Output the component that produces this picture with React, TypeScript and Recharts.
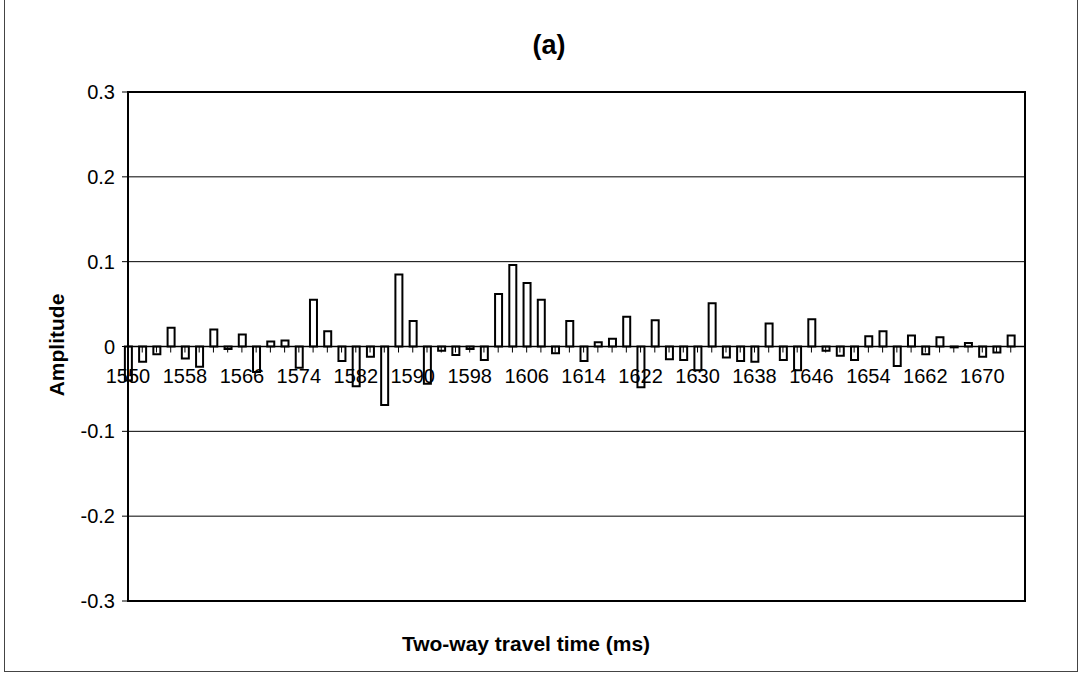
import React from 'react';
import {
  BarChart,
  Bar,
  XAxis,
  YAxis,
  CartesianGrid,
  ReferenceLine,
  ReferenceArea,
} from 'recharts';

// two-way travel time (ms), one bar every 2 ms
const times = [
  1550, 1552, 1554, 1556, 1558, 1560, 1562, 1564, 1566, 1568, 1570, 1572, 1574,
  1576, 1578, 1580, 1582, 1584, 1586, 1588, 1590, 1592, 1594, 1596, 1598, 1600,
  1602, 1604, 1606, 1608, 1610, 1612, 1614, 1616, 1618, 1620, 1622, 1624, 1626,
  1628, 1630, 1632, 1634, 1636, 1638, 1640, 1642, 1644, 1646, 1648, 1650, 1652,
  1654, 1656, 1658, 1660, 1662, 1664, 1666, 1668, 1670, 1672, 1674,
];

const amplitudes = [
  -0.04, -0.018, -0.009, 0.022, -0.014, -0.024, 0.02, -0.003, 0.014, -0.03, 0.006,
  0.007, -0.025, 0.055, 0.018, -0.017, -0.047, -0.012, -0.069, 0.085, 0.03, -0.044,
  -0.005, -0.01, -0.003, -0.016, 0.062, 0.096, 0.075, 0.055, -0.008, 0.03, -0.017,
  0.005, 0.009, 0.035, -0.048, 0.031, -0.015, -0.016, -0.028, 0.051, -0.013, -0.017,
  -0.018, 0.027, -0.016, -0.028, 0.032, -0.005, -0.011, -0.016, 0.012, 0.018,
  -0.023, 0.013, -0.009, 0.011, -0.001, 0.004, -0.012, -0.007, 0.013,
];

const axisTicks = [...times, 1676];
const labelTicks = [1550, 1558, 1566, 1574, 1582, 1590, 1598, 1606, 1614, 1622, 1630, 1638, 1646, 1654, 1662, 1670];
const yTicks = [-0.3, -0.2, -0.1, 0, 0.1, 0.2, 0.3];

const data = times.map((t, i) => ({ t, amp: amplitudes[i] }));

const W = 1081;
const H = 673;
const MARGIN = { top: 92, right: 56, left: 0, bottom: 0 };
const Y_AXIS_W = 128;
const X_AXIS_H = 72;
const PLOT_H = H - MARGIN.top - MARGIN.bottom - X_AXIS_H;
const FONT = '"Liberation Sans", Arial, sans-serif';

// x ticks sit on the zero line, not at the bottom of the plot
function ZeroTick(props: any) {
  const { x, y, payload } = props;
  const zeroY = y - PLOT_H / 2;
  const showLabel = labelTicks.includes(payload.value);
  return (
    <g>
      <line x1={x} y1={zeroY} x2={x} y2={zeroY + 6} stroke="#000" strokeWidth={1} />
      {showLabel && (
        <text x={x} y={zeroY + 36} textAnchor="middle" fontSize={20} fill="#000" fontFamily={FONT}>
          {payload.value}
        </text>
      )}
    </g>
  );
}

export default function App() {
  return (
    <div style={{ position: 'relative', width: W, height: H, fontFamily: FONT, background: '#fff' }}>
      <style>{`body{margin:0}`}</style>
      <div
        style={{
          position: 'absolute',
          left: 4,
          top: 0,
          width: 1072,
          height: 671,
          borderLeft: '1px solid #444',
          borderRight: '1px solid #444',
          borderBottom: '1px solid #444',
        }}
      />
      <BarChart width={W} height={H} data={data} margin={MARGIN}>
        <CartesianGrid vertical={false} stroke="#000" strokeWidth={1} />
        <XAxis
          dataKey="t"
          type="number"
          domain={[1550, 1676]}
          ticks={axisTicks}
          interval={0}
          height={X_AXIS_H}
          axisLine={false}
          tickLine={false}
          tickSize={0}
          tickMargin={0}
          tick={<ZeroTick />}
        />
        <YAxis
          domain={[-0.3, 0.3]}
          ticks={yTicks}
          width={Y_AXIS_W}
          interval={0}
          axisLine={{ stroke: '#000', strokeWidth: 2 }}
          tickLine={{ stroke: '#000' }}
          tickSize={6}
          tickMargin={7}
          tick={{ fontSize: 20, fill: '#000', fontFamily: FONT }}
        />
        <ReferenceArea x1={1550} x2={1676} y1={-0.3} y2={0.3} fill="none" fillOpacity={0} stroke="#000" strokeWidth={2} />
        <ReferenceLine y={0} stroke="#000" strokeWidth={1.5} />
        <Bar dataKey="amp" barSize={7} fill="#fff" stroke="#000" strokeWidth={2} isAnimationActive={false} />
      </BarChart>
      <div style={{ position: 'absolute', left: 449, width: 200, top: 30, textAlign: 'center', fontSize: 27, fontWeight: 'bold' }}>
        (a)
      </div>
      <div style={{ position: 'absolute', left: 326, width: 400, top: 632, textAlign: 'center', fontSize: 21, fontWeight: 'bold' }}>
        Two-way travel time (ms)
      </div>
      <div
        style={{
          position: 'absolute',
          left: 57,
          top: 345,
          transform: 'translate(-50%, -50%) rotate(-90deg)',
          fontSize: 21,
          fontWeight: 'bold',
          whiteSpace: 'nowrap',
        }}
      >
        Amplitude
      </div>
    </div>
  );
}
